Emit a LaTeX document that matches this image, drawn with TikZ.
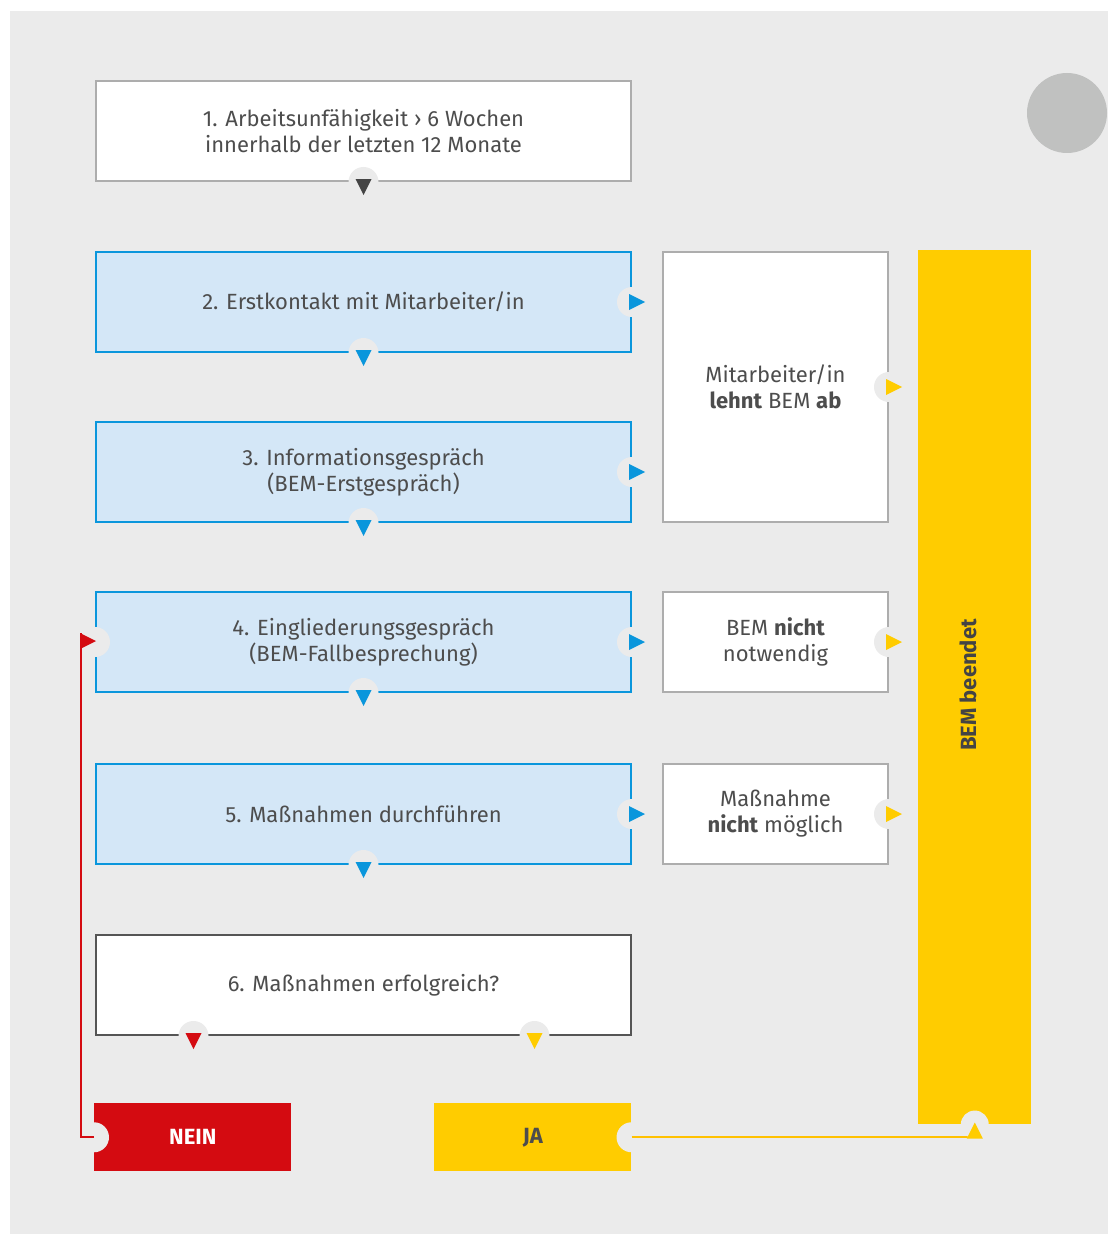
\documentclass[tikz,border=0pt]{standalone}
\usepackage{fontspec}
\setmainfont{Fira Sans}
\definecolor{bgc}{HTML}{EBEBEB}
\definecolor{circ}{HTML}{C0C1C0}
\definecolor{greyb}{HTML}{ADADAD}
\definecolor{blueb}{HTML}{0A96DC}
\definecolor{bluef}{HTML}{D4E7F7}
\definecolor{darkb}{HTML}{555555}
\definecolor{txt}{HTML}{4D4D4D}
\definecolor{yel}{HTML}{FFCC00}
\definecolor{redc}{HTML}{D40B11}
\definecolor{tridark}{HTML}{444444}
\begin{document}
\begin{tikzpicture}[x=0.75pt,y=-0.75pt,
  basebox/.style={anchor=north west, inner sep=0pt, line width=1.5pt, align=center,
    text=txt, font=\fontsize{16.5}{19.5}\selectfont,
    minimum width=535*0.75pt, minimum height=100*0.75pt},
  whitebox/.style={basebox, draw=greyb, fill=white},
  bluebox/.style={basebox, draw=blueb, fill=bluef},
  darkbox/.style={basebox, draw=darkb, fill=white},
  sidebox/.style={basebox, draw=greyb, fill=white, minimum width=225*0.75pt},
  endbar/.style={anchor=north west, inner sep=0pt, fill=yel, minimum width=113*0.75pt, minimum height=874*0.75pt},
  answer/.style={anchor=north west, inner sep=0pt, minimum width=197*0.75pt, minimum height=68*0.75pt,
    font=\fontsize{16.5}{19.5}\selectfont\bfseries},
  pics/mdown/.style={code={\fill[bgc] (0,0) circle[radius=15];
      \fill[#1] (-8,-3) -- (8,-3) -- (0,13) -- cycle;}},
  pics/mright/.style={code={\fill[bgc] (0,0) circle[radius=15];
      \fill[#1] (-3,-8) -- (-3,8) -- (13,0) -- cycle;}},
  pics/mup/.style={code={\fill[bgc] (0,0) circle[radius=14];
      \fill[#1] (-8,14) -- (8,14) -- (0,-2) -- cycle;}},
  pics/notch/.style={code={\fill[bgc] (0,0) circle[radius=15];}},
  link/.style={line width=1.5pt},
]
\useasboundingbox (0,0) rectangle (1108,1234);
\fill[bgc] (10,11) rectangle (1108,1234);
\fill[circ] (1067,113) circle[radius=40];

\node[whitebox] (b1) at (95,80) {1. Arbeitsunfähigkeit › 6 Wochen\\innerhalb der letzten 12 Monate};
\node[bluebox] (b2) at (95,251) {2. Erstkontakt mit Mitarbeiter/in};
\node[bluebox] (b3) at (95,421) {3. Informationsgespräch\\(BEM-Erstgespräch)};
\node[bluebox] (b4) at (95,591) {4. Eingliederungsgespräch\\(BEM-Fallbesprechung)};
\node[bluebox] (b5) at (95,763) {5. Maßnahmen durchführen};
\node[darkbox] (b6) at (95,934) {6. Maßnahmen erfolgreich?};

\node[sidebox, minimum height=270*0.75pt] (r1) at (662,251) {Mitarbeiter/in\\\textbf{lehnt} BEM \textbf{ab}};
\node[sidebox] (r2) at (662,591) {BEM \textbf{nicht}\\notwendig};
\node[sidebox] (r3) at (662,763) {Maßnahme\\\textbf{nicht} möglich};

\node[endbar] (bar) at (918,250) {};
\node[rotate=90, text=tridark, font=\fontsize{16.5}{19.5}\selectfont\bfseries] (bartext) at (968,685) {BEM beendet};

\node[answer, fill=redc, text=white] (nein) at (94,1103) {NEIN};
\node[answer, fill=yel, text=txt] (ja) at (434,1103) {JA};

% markers
\pic at (b1.south) {mdown=tridark};
\pic at (b2.south) {mdown=blueb};
\pic at (b3.south) {mdown=blueb};
\pic at (b4.south) {mdown=blueb};
\pic at (b5.south) {mdown=blueb};
\pic at (b2.east) {mright=blueb};
\pic at (b3.east) {mright=blueb};
\pic at (b4.east) {mright=blueb};
\pic at (b5.east) {mright=blueb};
\pic at (r1.east) {mright=yel};
\pic at (r2.east) {mright=yel};
\pic at (r3.east) {mright=yel};
\pic at ([xshift=-170*0.75pt]b6.south) {mdown=redc};
\pic at ([xshift=171*0.75pt]b6.south) {mdown=yel};

% NEIN -> 4
\pic at (nein.west) {notch};
\pic at (b4.west) {notch};
\coordinate (flagtop) at (81,633);
\draw[link, redc] (nein.west) -| (flagtop);
\fill[redc] (80,633) -- (96,641) -- (80,649) -- cycle;

% JA -> BEM beendet
\pic at (ja.east) {notch};
\draw[link, yel!85!orange] (ja.east) -- (ja.east -| bar.south);
\pic at (bar.south) {mup=yel};
\end{tikzpicture}
\end{document}
